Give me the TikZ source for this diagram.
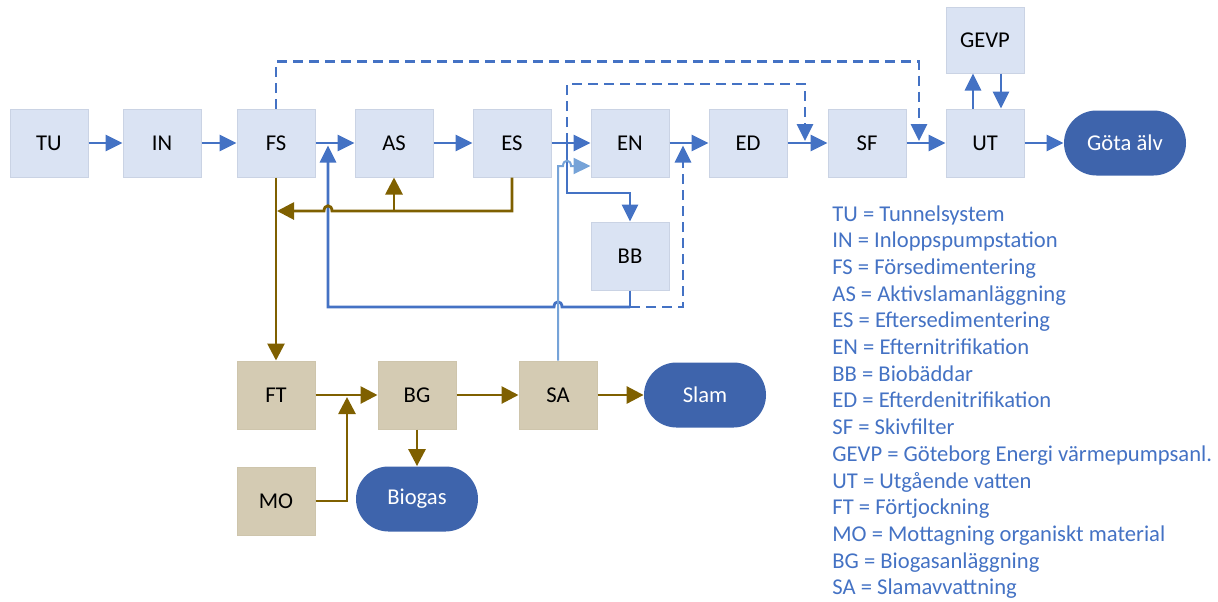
\documentclass[tikz,border=0pt]{standalone}
\usepackage{fontspec}
\setmainfont{Carlito}
\usepackage{xcolor}
\usepackage{tikz}
\usetikzlibrary{arrows.meta}
\usetikzlibrary{calc}
\usetikzlibrary{shapes.misc}
\definecolor{boxblue}{HTML}{DAE3F3}
\definecolor{boxedge}{HTML}{CAD3E4}
\definecolor{boxtan}{HTML}{D4CBB3}
\definecolor{tanedge}{HTML}{CEC5AC}
\definecolor{arrowblue}{HTML}{4472C4}
\definecolor{lineblue}{HTML}{76A3D8}
\definecolor{brownline}{HTML}{7F6000}
\definecolor{darkblue}{HTML}{3E64AC}

\begin{document}
\begin{tikzpicture}[x=0.5pt,y=-0.5pt,font=\fontsize{11.3}{13.5}\selectfont,
	pbox/.style={draw=boxedge,line width=0.5pt,fill=boxblue,minimum width=39pt,minimum height=34pt,inner sep=0pt},
	tbox/.style={pbox,draw=tanedge,fill=boxtan},
	sink/.style={rounded rectangle,fill=darkblue,text=white,minimum width=61pt,minimum height=32.5pt,inner sep=0pt},
	blarr/.style={-{Triangle[length=8.5pt,width=8pt]},line width=1.4pt,arrowblue},
	lbarr/.style={-{Triangle[length=8.5pt,width=8pt]},line width=1pt,lineblue},
	brarr/.style={-{Triangle[length=8.5pt,width=8.5pt]},line width=1.4pt,brownline},
	dashline/.style={dash pattern=on 5pt off 3pt}]
	\useasboundingbox (0,0) rectangle (1218,601);
	% water line
	\node[pbox] (TU) at (49,143) {TU};
	\node[pbox] (IN) at (162,143) {IN};
	\node[pbox] (FS) at (276,143) {FS};
	\node[pbox] (AS) at (394,143) {AS};
	\node[pbox] (ES) at (512,143) {ES};
	\node[pbox] (EN) at (630,143) {EN};
	\node[pbox] (ED) at (748,143) {ED};
	\node[pbox] (SF) at (867,143) {SF};
	\node[pbox] (UT) at (985,143) {UT};
	\node[pbox,minimum height=33pt] (GEVP) at (985,40) {GEVP};
	\node[pbox] (BB) at (630,256) {BB};
	\node[sink] (GA) at (1125,143) {Göta älv};
	% sludge line
	\node[tbox] (FT) at (276,395) {FT};
	\node[tbox] (BG) at (417,395) {BG};
	\node[tbox] (SA) at (558,395) {SA};
	\node[tbox] (MO) at (276,501) {MO};
	\node[sink] (SL) at (705,395) {Slam};
	\node[sink] (BI) at (417,499) {Biogas};

	\coordinate (esen) at (567,143);
	\coordinate (edsf) at (805,141);
	\coordinate (sfut) at (919,141);
	\coordinate (fsas) at (328,145.5);
	\coordinate (ened) at (683,145.5);
	\coordinate (bbj) at (630,307);
	\coordinate (brj) at (277,211);
	\coordinate (ftbg) at (347,397);

	\foreach \a/\b in {TU/IN,IN/FS,FS/AS,AS/ES,ES/EN,EN/ED,ED/SF,SF/UT,UT/GA}
		\draw[blarr] (\a) -- (\b);
	\draw[blarr] ($(UT.north)+(-12,0)$) -- ($(GEVP.south)+(-12,0)$);
	\draw[blarr] ($(GEVP.south)+(16,0)$) -- ($(UT.north)+(16,0)$);

	% bypasses
	\draw[blarr,dashline] (FS.north) -- ++(0,-47) -| (sfut);
	\draw[blarr,dashline] (esen) -- ++(0,-59) -| (edsf);
	\draw[blarr] (esen) -- ++(0,50) -| (BB.north);

	% return from BB
	\draw[arrowblue,line width=1.4pt] (BB.south) -- (bbj);
	\draw[blarr] (bbj) -- (562,307) .. controls (562,300) and (554,300) .. (554,307) -- (328,307) -- (fsas);
	\draw[blarr,dashline] (bbj) -| (ened);

	% reject water
	\draw[lbarr] (SA.north) -- (558,166) -- (563,166) .. controls (563,159) and (571,159) .. (571,166) -- ($(EN.west)+(0,23)$);

	% sludge
	\draw[brarr] (FS.south) -- (FT.north);
	\draw[brarr] (ES.south) |- (332,211) .. controls (332,204) and (324,204) .. (324,211) -- (brj);
	\draw[brarr] (AS.south |- brj) -- (AS.south);
	\draw[brarr] (FT) -- (BG);
	\draw[brarr] (MO.east) -| (ftbg);
	\draw[brarr] (BG) -- (SA);
	\draw[brarr] (SA) -- (SL);
	\draw[brarr] (BG.south) -- (BI.north);

	% legend
	\foreach \txt [count=\i] in {TU = Tunnelsystem, IN = Inloppspumpstation, FS = Försedimentering,
		AS = Aktivslamanläggning, ES = Eftersedimentering, EN = Efternitrifikation, BB = Biobäddar,
		ED = Efterdenitrifikation, SF = Skivfilter, GEVP = Göteborg Energi värmepumpsanl.,
		UT = Utgående vatten, FT = Förtjockning, MO = Mottagning organiskt material,
		BG = Biogasanläggning, SA = Slamavvattning}
		\node[anchor=base west,inner sep=0pt,text=arrowblue] (leg\i) at (832,{194.3+26.7*\i}) {\txt};
\end{tikzpicture}
\end{document}
